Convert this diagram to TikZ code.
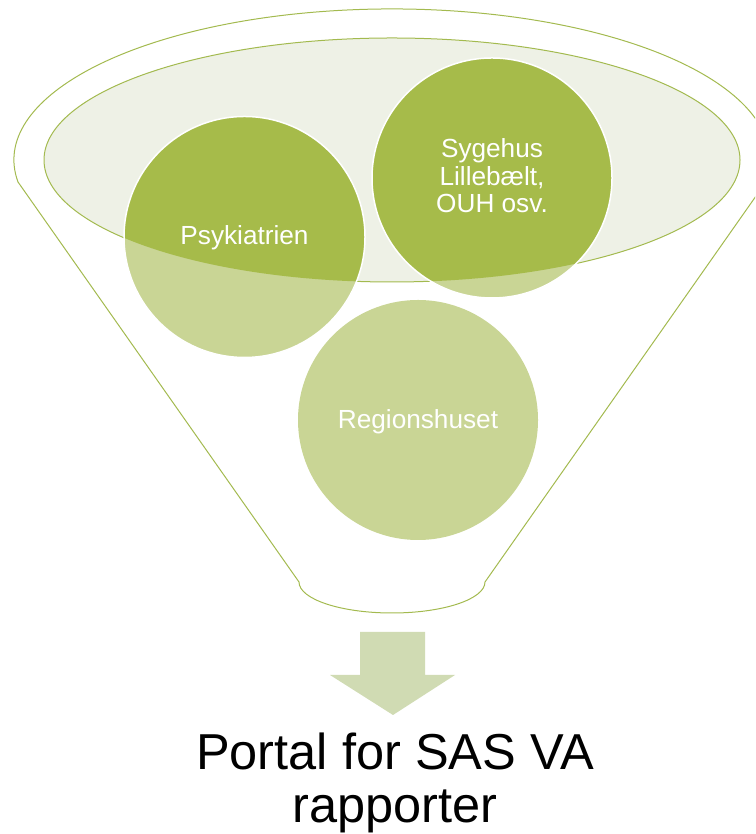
\documentclass[tikz,border=0pt]{standalone}
\usepackage{fontspec}
\setmainfont{Liberation Sans}
\definecolor{lineg}{HTML}{A3BA4F}
\definecolor{darkg}{HTML}{A6BB4A}
\definecolor{lightg}{HTML}{C9D595}
\definecolor{ellg}{HTML}{EEF1E6}
\definecolor{arrowg}{HTML}{D0DBB3}
\tikzset{
  funnelline/.style={draw=lineg, line width=1pt},
  circtext/.style={text=white, font=\fontsize{26.2}{27.5}\selectfont, align=center, inner sep=0pt},
  bigtext/.style={text=black, font=\fontsize{50.5}{52}\selectfont, inner sep=0pt, anchor=base}
}
\begin{document}
\begin{tikzpicture}[x=1pt,y=1pt]
\path[use as bounding box] (0,0) rectangle (755,834);
\clip (0,0) rectangle (755,834);
% funnel outline
\draw[funnelline] (18,652) arc[start angle=188.4, end angle=-8.4, x radius=378, y radius=151]
  -- (485,252) arc[start angle=0, end angle=-180, x radius=93, y radius=31] -- cycle;
% inner ellipse
\draw[funnelline, fill=ellg] (392,674) ellipse[x radius=348, y radius=122];
% circles, light part
\fill[lightg] (244.5,597) circle[radius=120.5];
\fill[lightg] (492,656) circle[radius=120];
\fill[lightg] (418,414) circle[radius=120];
% darker part inside ellipse
\begin{scope}
\clip (392,674) ellipse[x radius=348, y radius=122];
\fill[darkg] (244.5,597) circle[radius=120.5];
\fill[darkg] (492,656) circle[radius=120];
\end{scope}
\draw[white, line width=1.5pt] (244.5,597) circle[radius=120.5];
\draw[white, line width=1.5pt] (492,656) circle[radius=120];
% texts
\node[circtext, anchor=base] (psyk) at (244.5,589) {Psykiatrien};
\node[circtext] (syge) at (492,658) {Sygehus\\Lillebælt,\\OUH osv.};
\node[circtext, anchor=base] (region) at (418,405) {Regionshuset};
% arrow
\fill[arrowg] (360,202) -- (425,202) -- (425,159) -- (455,159) -- (393,119) -- (330,159) -- (360,159) -- cycle;
\node[bigtext] (title1) at (395,64) {Portal for SAS VA};
\node[bigtext] (title2) at (395,12) {rapporter};
\end{tikzpicture}
\end{document}
